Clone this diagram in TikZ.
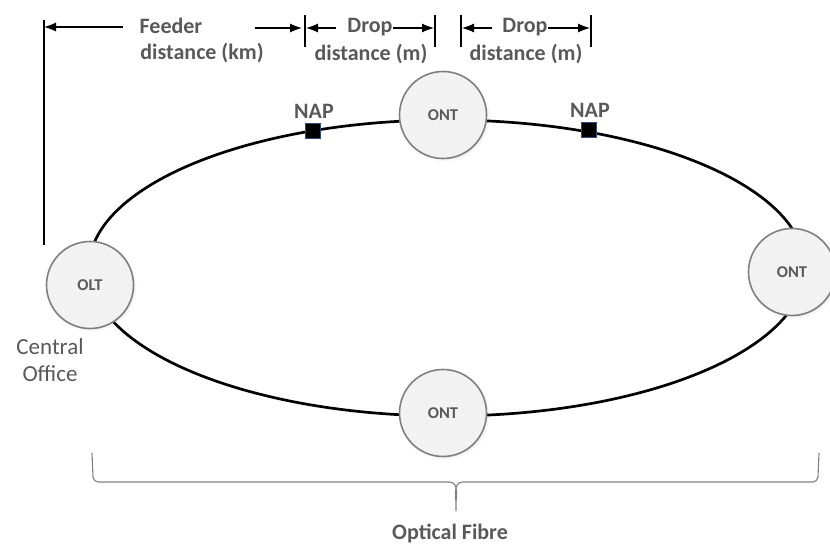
\documentclass[tikz,border=0pt]{standalone}
\usepackage{fontspec}
\setmainfont{Carlito}
\usepackage{tikz}
\usetikzlibrary{arrows.meta,shadows}

\definecolor{txtgray}{HTML}{595959}
\definecolor{rimgray}{HTML}{7F7F7F}
\definecolor{fillgray}{HTML}{F2F2F2}
\definecolor{napblue}{HTML}{2F4A7F}

\tikzset{
  unit/.style={
    circle, minimum size=87pt, inner sep=0pt,
    draw=rimgray, line width=1.6pt, fill=fillgray,
    font=\bfseries\fontsize{16.5}{19}\selectfont, text=txtgray,
    circular drop shadow={shadow scale=1.04, opacity=0.25},
  },
  nap/.style={
    rectangle, minimum size=15pt, inner sep=0pt,
    fill=black, draw=napblue, line width=1.2pt,
  },
  lbl/.style={font=\bfseries\fontsize{22}{26}\selectfont, text=txtgray, inner sep=1pt},
  dim/.style={-{Latex[length=12pt,width=9pt]}, line width=1.1pt},
  tick/.style={line width=1.1pt},
}

\begin{document}
\begin{tikzpicture}[x=1pt, y=-1pt]
  \useasboundingbox (0,0) rectangle (830,545);

  % the fibre ring
  \draw[line width=2.7pt] (447,268) ellipse [x radius=358, y radius=148];

  % terminals
  \node[unit] (olt) at (90,285) {OLT};
  \node[unit] (onttop) at (443,115) {ONT};
  \node[unit] (ontright) at (792,272) {ONT};
  \node[unit] (ontbot) at (443,413) {ONT};

  % access points
  \node[nap] (napa) at (313,131) {};
  \node[nap] (napb) at (589,130) {};
  \node[lbl] at (314,111) {NAP};
  \node[lbl] at (590,110) {NAP};

  \node[font=\fontsize{23}{27}\selectfont, text=txtgray, align=center] (co) at (50,360)
    {Central\\Office};

  % feeder distance
  \coordinate (fa) at (44,20);
  \coordinate (fb) at (44,245);
  \draw[tick] (fa) -- (fb);
  \node[lbl] (feed) at (171,26) {Feeder};
  \node[lbl] (feedd) at (202,53) {distance (km)};
  \coordinate (fl) at (44,27);
  \coordinate (fl0) at (123,27);
  \coordinate (fr0) at (255,28);
  \coordinate (fr) at (302,28);
  \draw[dim] (fl0) -- (fl);
  \draw[dim] (fr0) -- (fr);

  % first drop distance
  \coordinate (ta) at (305,15);
  \coordinate (tb) at (305,47);
  \coordinate (tc) at (435,15);
  \coordinate (td) at (435,47);
  \draw[tick] (ta) -- (tb);
  \draw[tick] (tc) -- (td);
  \node[lbl] (dropa) at (370,27) {Drop};
  \node[lbl] (dropad) at (371,54) {distance (m)};
  \coordinate (da0) at (336,28);
  \coordinate (da1) at (306,28);
  \coordinate (da2) at (393,28);
  \coordinate (da3) at (434,28);
  \draw[dim] (da0) -- (da1);
  \draw[dim] (da2) -- (da3);

  % second drop distance
  \coordinate (te) at (461,15);
  \coordinate (tf) at (461,47);
  \coordinate (tg) at (591,15);
  \coordinate (th) at (591,47);
  \draw[tick] (te) -- (tf);
  \draw[tick] (tg) -- (th);
  \node[lbl] (dropb) at (525,27) {Drop};
  \node[lbl] (dropbd) at (526,54) {distance (m)};
  \coordinate (db0) at (492,28);
  \coordinate (db1) at (462,28);
  \coordinate (db2) at (548,28);
  \coordinate (db3) at (590,28);
  \draw[dim] (db0) -- (db1);
  \draw[dim] (db2) -- (db3);

  % brace under the ring
  \draw[rimgray, line width=1.1pt]
    (92,453) -- (93,477) to[out=-80, in=180] (98,482) -- (449,482)
    to[out=0, in=95] (456,511)
    to[out=85, in=180] (463,482) -- (813,482)
    to[out=0, in=-100] (818,477) -- (819,453);
  \node[lbl] (fibre) at (450,533) {Optical Fibre};
\end{tikzpicture}
\end{document}
